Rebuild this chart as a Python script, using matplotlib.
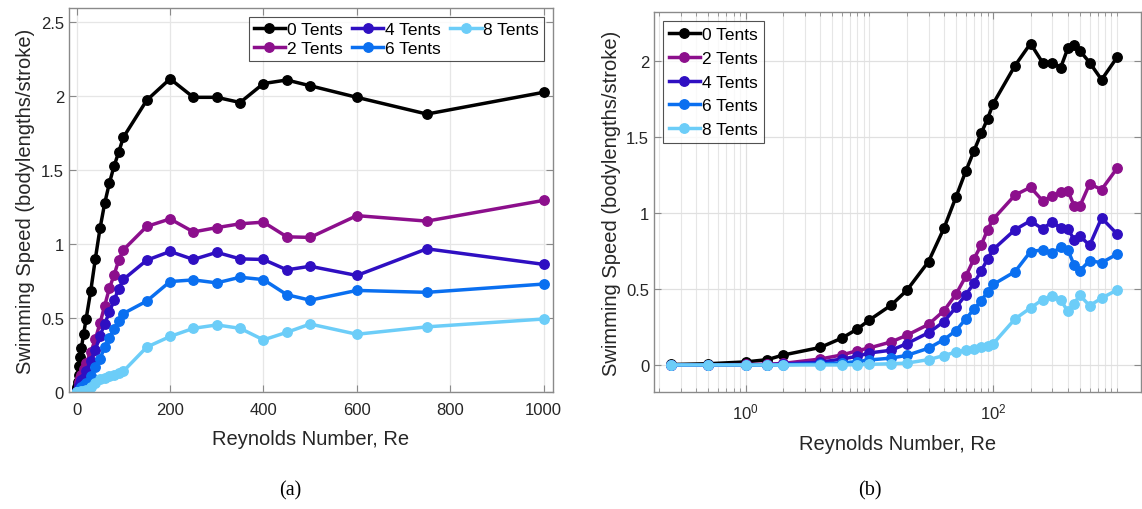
import matplotlib
matplotlib.use("Agg")
import matplotlib.pyplot as plt
from matplotlib.ticker import FuncFormatter, FixedLocator, LogLocator, NullFormatter

plt.rcParams['font.family'] = ['Liberation Sans', 'DejaVu Sans']
plt.rcParams['mathtext.fontset'] = 'custom'
plt.rcParams['mathtext.rm'] = 'Liberation Sans'
plt.rcParams['mathtext.it'] = 'Liberation Sans:italic'

# --- data: swimming speed vs Reynolds number for each tentacle count ---
reynolds = [0.25, 0.5, 1, 1.5, 2, 4, 6, 8, 10, 15, 20, 30, 40, 50, 60, 70, 80, 90,
            100, 150, 200, 250, 300, 350, 400, 450, 500, 600, 750, 1000]

tents_0 = [0.003, 0.008, 0.02, 0.035, 0.065, 0.115, 0.177, 0.237, 0.296, 0.394,
           0.49, 0.68, 0.90, 1.105, 1.275, 1.41, 1.525, 1.62, 1.72, 1.97,
           2.115, 1.99, 1.99, 1.955, 2.083, 2.107, 2.068, 1.99, 1.877, 2.024]
tents_2 = [0.0, 0.0, 0.003, 0.005, 0.01, 0.039, 0.066, 0.094, 0.112, 0.152,
           0.195, 0.267, 0.357, 0.465, 0.583, 0.70, 0.789, 0.89, 0.96, 1.118,
           1.169, 1.081, 1.110, 1.136, 1.147, 1.048, 1.044, 1.191, 1.154, 1.294]
tents_4 = [0.0, 0.0, 0.0, 0.002, 0.005, 0.018, 0.039, 0.057, 0.079, 0.097,
           0.14, 0.212, 0.285, 0.38, 0.461, 0.539, 0.62, 0.697, 0.76, 0.89,
           0.949, 0.895, 0.943, 0.899, 0.895, 0.825, 0.849, 0.787, 0.967, 0.862]
tents_6 = [0.0, 0.0, 0.0, 0.0, 0.002, 0.007, 0.013, 0.022, 0.033, 0.045,
           0.063, 0.11, 0.167, 0.226, 0.303, 0.368, 0.423, 0.482, 0.53, 0.614,
           0.746, 0.757, 0.737, 0.775, 0.759, 0.657, 0.62, 0.686, 0.673, 0.729]
tents_8 = [0.0, 0.0, 0.0, 0.0, 0.0, 0.0, 0.0, 0.002, 0.004, 0.008,
           0.012, 0.035, 0.062, 0.085, 0.097, 0.107, 0.116, 0.125, 0.14, 0.303,
           0.375, 0.43, 0.453, 0.43, 0.352, 0.403, 0.459, 0.39, 0.44, 0.493]

labels = ['0 Tents', '2 Tents', '4 Tents', '6 Tents', '8 Tents']
colors = ['#000000', '#8c0f8c', '#2f0fc2', '#0a6ff0', '#6ccdf8']
series = [tents_0, tents_2, tents_4, tents_6, tents_8]

AX_COLOR = '#8a8a8a'
GRID_COLOR = '#e6e6e6'
TEXT_COLOR = '#262626'


def style_axes(ax):
    for sp in ax.spines.values():
        sp.set_color(AX_COLOR)
        sp.set_linewidth(1.0)
    ax.tick_params(which='both', direction='in', top=True, right=True,
                   color=AX_COLOR, labelcolor=TEXT_COLOR, labelsize=12)
    ax.tick_params(which='major', length=5)
    ax.tick_params(which='minor', length=3)
    ax.tick_params(axis='x', which='major', pad=7)
    ax.set_axisbelow(True)
    ax.set_xlabel('Reynolds Number, Re', fontsize=14.5, color=TEXT_COLOR, labelpad=9)
    ax.set_ylabel('Swimming Speed (bodylengths/stroke)', fontsize=14.5,
                  color=TEXT_COLOR, labelpad=4)


fig = plt.figure(figsize=(11.42, 5.10), dpi=100)
ax1 = fig.add_axes([0.0604, 0.2294, 0.4238, 0.7529])
ax2 = fig.add_axes([0.5727, 0.2294, 0.4264, 0.7450])

fmt = FuncFormatter(lambda v, _: f'{v:g}')

# (a) linear Reynolds axis
for ys, c, lab in zip(series, colors, labels):
    ax1.plot(reynolds, ys, '-o', color=c, lw=2.5, ms=6.8, label=lab)
ax1.set_xlim(-16.5, 1020)
ax1.set_ylim(0, 2.593)
ax1.set_xticks([0, 200, 400, 600, 800, 1000])
ax1.set_yticks([0, 0.5, 1, 1.5, 2, 2.5])
ax1.yaxis.set_major_formatter(fmt)
ax1.grid(True, color=GRID_COLOR, lw=0.9)
style_axes(ax1)
leg1 = ax1.legend(loc='upper right', ncol=3, fontsize=12.5, frameon=True, fancybox=False,
                  handlelength=1.8, handletextpad=0.1, columnspacing=0.55,
                  labelspacing=0.2, borderpad=0.3, borderaxespad=0.5)
leg1.get_frame().set_edgecolor(TEXT_COLOR)
leg1.get_frame().set_linewidth(0.8)

# (b) logarithmic Reynolds axis
for ys, c, lab in zip(series, colors, labels):
    ax2.plot(reynolds, ys, '-o', color=c, lw=2.5, ms=6.8, label=lab)
ax2.set_xscale('log')
ax2.set_xlim(0.182, 1560)
ax2.set_ylim(-0.178, 2.322)
ax2.xaxis.set_major_locator(FixedLocator([1, 100]))
ax2.xaxis.set_major_formatter(FuncFormatter(lambda v, _: {1: '$10^{0}$', 100: '$10^{2}$'}.get(int(round(v)), '')))
ax2.xaxis.set_minor_locator(LogLocator(base=10, subs=[1, 2, 3, 4, 5, 6, 7, 8, 9], numticks=20))
ax2.xaxis.set_minor_formatter(NullFormatter())
ax2.set_yticks([0, 0.5, 1, 1.5, 2])
ax2.yaxis.set_major_formatter(fmt)
ax2.grid(True, which='major', color='#e0e0e0', lw=0.9)
ax2.grid(True, which='minor', axis='x', color=GRID_COLOR, lw=0.8)
style_axes(ax2)
leg2 = ax2.legend(loc='upper left', ncol=1, fontsize=12.5, frameon=True, fancybox=False,
                  handlelength=1.8, handletextpad=0.1, labelspacing=0.5,
                  borderpad=0.35, borderaxespad=0.5)
leg2.get_frame().set_edgecolor(TEXT_COLOR)
leg2.get_frame().set_linewidth(0.8)

fig.text(0.254, 0.037, '(a)', ha='center', va='center', fontsize=14.5,
         family='Liberation Serif')
fig.text(0.762, 0.037, '(b)', ha='center', va='center', fontsize=14.5,
         family='Liberation Serif')

fig.savefig('out.png', dpi=100, facecolor='white')
